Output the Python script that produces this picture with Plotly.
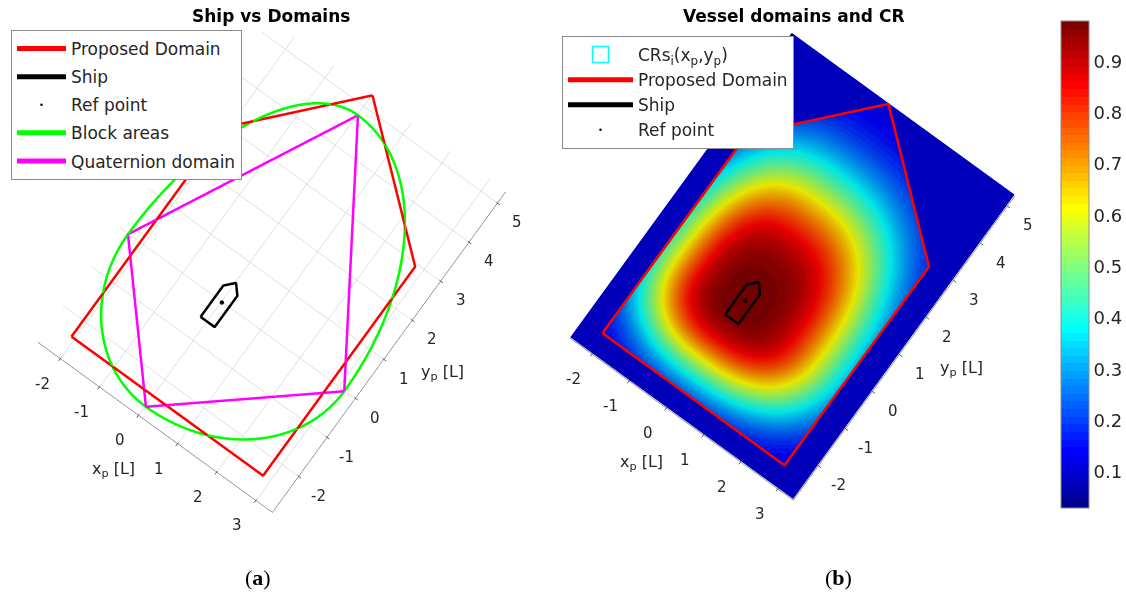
import numpy as np
import plotly.graph_objects as go

# ---------------- data (units: ship lengths L) ----------------
x_lim = [-2.6, 3.4]
y_lim = [-2.9, 5.3]
x_ticks = [-2, -1, 0, 1, 2, 3]
y_ticks = [-2, -1, 0, 1, 2, 3, 4, 5]

# proposed ship domain (closed pentagon)
domain_x = [-2.1, 2.8, 2.8, 0.0, -2.1, -2.1]
domain_y = [-2.4, -2.4, 2.95, 5.3, 2.95, -2.4]

# ship outline (closed)
ship_x = [-0.18, 0.18, 0.18, 0.0, -0.18, -0.18]
ship_y = [-0.5, -0.5, 0.3, 0.5, 0.3, -0.5]

# reference point
ref_x = [0.0]
ref_y = [0.0]

# quaternion domain radii
q_fore = 4.79
q_aft = 2.67
q_stbd = 3.13
q_port = 2.40

# collision-risk field parameters
cr_peak = 0.97
cr_floor = 0.10
cr_level = 0.60            # value reached on the reference contour
cr_r_stbd = 2.10           # reference contour radii
cr_r_port = 1.75
cr_r_fore = 2.70
cr_r_aft = 1.62
cr_shape_p = 2.5
cr_decay_q = 3.0
cb_ticks = [0.1, 0.2, 0.3, 0.4, 0.5, 0.6, 0.7, 0.8, 0.9]
cb_range = [0.029, 0.978]

# ---------------- derived geometry ----------------
# quaternion domain with k = 1 -> straight edges between the four radii
quat_x = [q_stbd, 0.0, -q_port, 0.0, q_stbd]
quat_y = [0.0, q_fore, 0.0, -q_aft, 0.0]

# block areas: quaternion domain with k = 2 -> elliptic quadrants
th = np.linspace(0, 2 * np.pi, 721)
c, s = np.cos(th), np.sin(th)
block_x = np.where(c >= 0, q_stbd, q_port) * c
block_y = np.where(s >= 0, q_fore, q_aft) * s

# collision-risk surface on a grid
gx = np.linspace(x_lim[0], x_lim[1], 301)
gy = np.linspace(y_lim[0], y_lim[1], 411)
GX, GY = np.meshgrid(gx, gy)
RX = np.where(GX >= 0, cr_r_stbd, cr_r_port)
RY = np.where(GY >= 0, cr_r_fore, cr_r_aft)
D = ((np.abs(GX) / RX) ** cr_shape_p + (np.abs(GY) / RY) ** cr_shape_p) ** (1 / cr_shape_p)
k0 = -np.log((cr_level - cr_floor) / (cr_peak - cr_floor))
CR = cr_floor + (cr_peak - cr_floor) * np.exp(-k0 * D ** cr_decay_q)

# outside the proposed domain the risk stays at the floor value
inside = np.ones_like(GX, dtype=bool)
for i in range(len(domain_x) - 1):
    ax, ay = domain_x[i], domain_y[i]
    bx, by = domain_x[i + 1], domain_y[i + 1]
    cross = (bx - ax) * (GY - ay) - (by - ay) * (GX - ax)
    inside &= cross >= -1e-9
CR = np.where(inside, CR, cr_floor)


def jet(m=64):
    n = int(np.ceil(m / 4))
    u = np.concatenate([np.arange(1, n + 1) / n, np.ones(n - 1), np.arange(n, 0, -1) / n])
    g = int(np.ceil(n / 2)) - (1 if m % 4 == 1 else 0) + np.arange(1, len(u) + 1)
    J = np.zeros((m, 3))
    for col, idx in ((0, g + n), (1, g), (2, g - n)):
        ok = (idx >= 1) & (idx <= m)
        J[idx[ok] - 1, col] = u[ok]
    return J


J = jet(64)
jet_scale = []
for i, (r, g, b) in enumerate(J):
    col = f"rgb({int(round(r*255))},{int(round(g*255))},{int(round(b*255))})"
    jet_scale.append([i / 64, col])
    jet_scale.append([(i + 1) / 64, col])

# ---------------- figure ----------------
FONT = "DejaVu Sans"
TXT = "#262626"
AXC = "#5a5a5a"
Z_LINE = 1.0
LW = 5

fig = go.Figure()


def line3d(x, y, color, name, scene, legend, width=LW):
    return go.Scatter3d(
        x=list(x), y=list(y), z=[Z_LINE] * len(x), mode="lines",
        line=dict(color=color, width=width), name=name, legend=legend,
        legendgroup=legend + name, scene=scene, hoverinfo="skip")


def ref3d(scene, legend):
    return go.Scatter3d(
        x=ref_x, y=ref_y, z=[Z_LINE] * len(ref_x), mode="markers",
        marker=dict(color="black", size=2.5), name="Ref point", legend=legend,
        legendgroup=legend + "ref", scene=scene, hoverinfo="skip")


# panel (a)
fig.add_trace(line3d(domain_x, domain_y, "#ff0000", "Proposed Domain", "scene", "legend"))
fig.add_trace(line3d(ship_x, ship_y, "#000000", "Ship", "scene", "legend"))
fig.add_trace(ref3d("scene", "legend"))
fig.add_trace(line3d(block_x, block_y, "#00ff00", "Block areas", "scene", "legend"))
fig.add_trace(line3d(quat_x, quat_y, "#ff00ff", "Quaternion domain", "scene", "legend"))

# panel (b)
fig.add_trace(go.Surface(
    x=gx, y=gy, z=np.zeros_like(CR), surfacecolor=CR, scene="scene2",
    colorscale=jet_scale, cmin=cb_range[0], cmax=cb_range[1], showscale=True,
    lighting=dict(ambient=0.9, diffuse=0, specular=0, roughness=1, fresnel=0),
    hoverinfo="skip",
    colorbar=dict(
        x=1061 / 1126, xanchor="left", y=1 - 265 / 593, yanchor="middle",
        lenmode="fraction", len=487 / 593, thickness=28, thicknessmode="pixels",
        xpad=0, ypad=0, outlinewidth=1, outlinecolor="#8c8c8c", ticks="",
        tickvals=cb_ticks, ticktext=[f"{v:.1f}" for v in cb_ticks],
        tickfont=dict(family=FONT, size=18, color=TXT)),
    showlegend=False))
# legend key for the risk surface (outlined box)
fig.add_trace(go.Scatter(
    x=[None], y=[None], mode="markers", name="CRs<sub>i</sub>(x<sub>p</sub>,y<sub>p</sub>)",
    legend="legend2", legendgroup="legend2cr",
    marker=dict(symbol="square", size=16, color="white",
                line=dict(color="#00ffff", width=1.5)), showlegend=True))
fig.add_trace(line3d(domain_x, domain_y, "#ff0000", "Proposed Domain", "scene2", "legend2"))
fig.add_trace(line3d(ship_x, ship_y, "#000000", "Ship", "scene2", "legend2"))
fig.add_trace(ref3d("scene2", "legend2"))


def axis(rng, ticks, grid):
    return dict(
        range=rng, tickvals=ticks, showticklabels=False, title=dict(text=""),
        showgrid=grid, gridcolor="#cdcdcd", gridwidth=1,
        showline=True, linecolor=AXC, linewidth=1, ticks="",
        showbackground=False, zeroline=False, showspikes=False, autorange=False)


# screen directions of the world axes for the chosen camera (pixels, y down)
X_DIR = (0.809, 0.588)
Y_DIR = (0.588, -0.809)
TICK_PX = 6


def axis_text(tx, ty):
    """Tick marks, horizontal tick labels and axis titles on the scene's coordinates."""
    f_tick = dict(family=FONT, size=15, color=TXT)
    f_title = dict(family=FONT, size=16, color=TXT)
    eps = 1e-3
    out = []
    mark = dict(text="", showarrow=True, arrowhead=0, arrowwidth=1, arrowcolor=AXC,
                standoff=0, startstandoff=0)
    for t in x_ticks:
        out.append(dict(x=t, y=y_lim[0] + eps, z=0, ax=-Y_DIR[0] * TICK_PX,
                        ay=-Y_DIR[1] * TICK_PX, **mark))
        out.append(dict(x=t, y=y_lim[0] + eps, z=0, text=str(t), showarrow=False,
                        xshift=-19, yshift=-26, font=f_tick))
    for t in y_ticks:
        out.append(dict(x=x_lim[1] - eps, y=t, z=0, ax=X_DIR[0] * TICK_PX,
                        ay=X_DIR[1] * TICK_PX, **mark))
        out.append(dict(x=x_lim[1] - eps, y=t, z=0, text=str(t), showarrow=False,
                        xshift=21, yshift=-20, font=f_tick))
    out.append(dict(x=0.25, y=y_lim[0] + eps, z=0, text="x<sub>p</sub> [L]", showarrow=False,
                    xshift=tx[0], yshift=tx[1], font=f_title))
    out.append(dict(x=x_lim[1] - eps, y=1.5, z=0, text="y<sub>p</sub> [L]", showarrow=False,
                    xshift=ty[0], yshift=ty[1], font=f_title))
    return out


ZAX = dict(visible=False, range=[0, 1.2], showspikes=False)
UP = dict(x=-0.588, y=0.809, z=0)


def aspect(px_per_unit, dom_h_px):
    k = px_per_unit / (dom_h_px / 2)
    return dict(x=(x_lim[1] - x_lim[0]) * k, y=(y_lim[1] - y_lim[0]) * k, z=0.1)


def cam():
    return dict(eye=dict(x=-0.08, y=0.08, z=2.5), up=UP,
                center=dict(x=0, y=0, z=0), projection=dict(type="orthographic"))


DOM_Y = [0.102, 1.0]
DOM_H = (DOM_Y[1] - DOM_Y[0]) * 593

fig.update_layout(
    width=1126, height=593, margin=dict(l=0, r=0, t=0, b=0),
    paper_bgcolor="white", plot_bgcolor="white",
    font=dict(family=FONT, color=TXT),
    xaxis=dict(visible=False), yaxis=dict(visible=False),
    scene=dict(domain=dict(x=[0.0, 0.482], y=DOM_Y),
               xaxis=axis(x_lim, x_ticks, True),
               yaxis=axis(y_lim, y_ticks, True),
               zaxis=ZAX, aspectmode="manual", aspectratio=aspect(48.3, DOM_H), camera=cam(),
               annotations=axis_text((-35, -48), (45, -34)), dragmode=False),
    scene2=dict(domain=dict(x=[0.47, 0.938], y=DOM_Y),
                xaxis=axis(x_lim, x_ticks, False),
                yaxis=axis(y_lim, y_ticks, False),
                zaxis=ZAX, aspectmode="manual", aspectratio=aspect(45.9, DOM_H), camera=cam(),
                annotations=axis_text((-35, -49), (49, -33)), dragmode=False),
    legend=dict(x=11 / 1126, y=1 - 30 / 593, xanchor="left", yanchor="top",
                bgcolor="white", bordercolor="#8c8c8c", borderwidth=1, itemwidth=49,
                font=dict(family=FONT, size=17, color=TXT), tracegroupgap=3),
    legend2=dict(x=562 / 1126, y=1 - 36 / 593, xanchor="left", yanchor="top",
                 bgcolor="white", bordercolor="#8c8c8c", borderwidth=1, itemwidth=65,
                 font=dict(family=FONT, size=17, color=TXT), tracegroupgap=0),
    annotations=[
        dict(text="<b>Ship vs Domains</b>", x=271 / 1126, y=1 - 16 / 593, xref="paper",
             yref="paper", xanchor="center", yanchor="middle", showarrow=False,
             font=dict(family=FONT, size=17, color="black")),
        dict(text="<b>Vessel domains and CR</b>", x=794 / 1126, y=1 - 16 / 593, xref="paper",
             yref="paper", xanchor="center", yanchor="middle", showarrow=False,
             font=dict(family=FONT, size=17, color="black")),
        dict(text="(<b>a</b>)", x=258 / 1126, y=1 - 577 / 593, xref="paper", yref="paper",
             xanchor="center", yanchor="middle", showarrow=False,
             font=dict(family="Liberation Serif", size=22, color="black")),
        dict(text="(<b>b</b>)", x=838 / 1126, y=1 - 577 / 593, xref="paper", yref="paper",
             xanchor="center", yanchor="middle", showarrow=False,
             font=dict(family="Liberation Serif", size=22, color="black")),
    ],
)

fig.write_html("out.html")
